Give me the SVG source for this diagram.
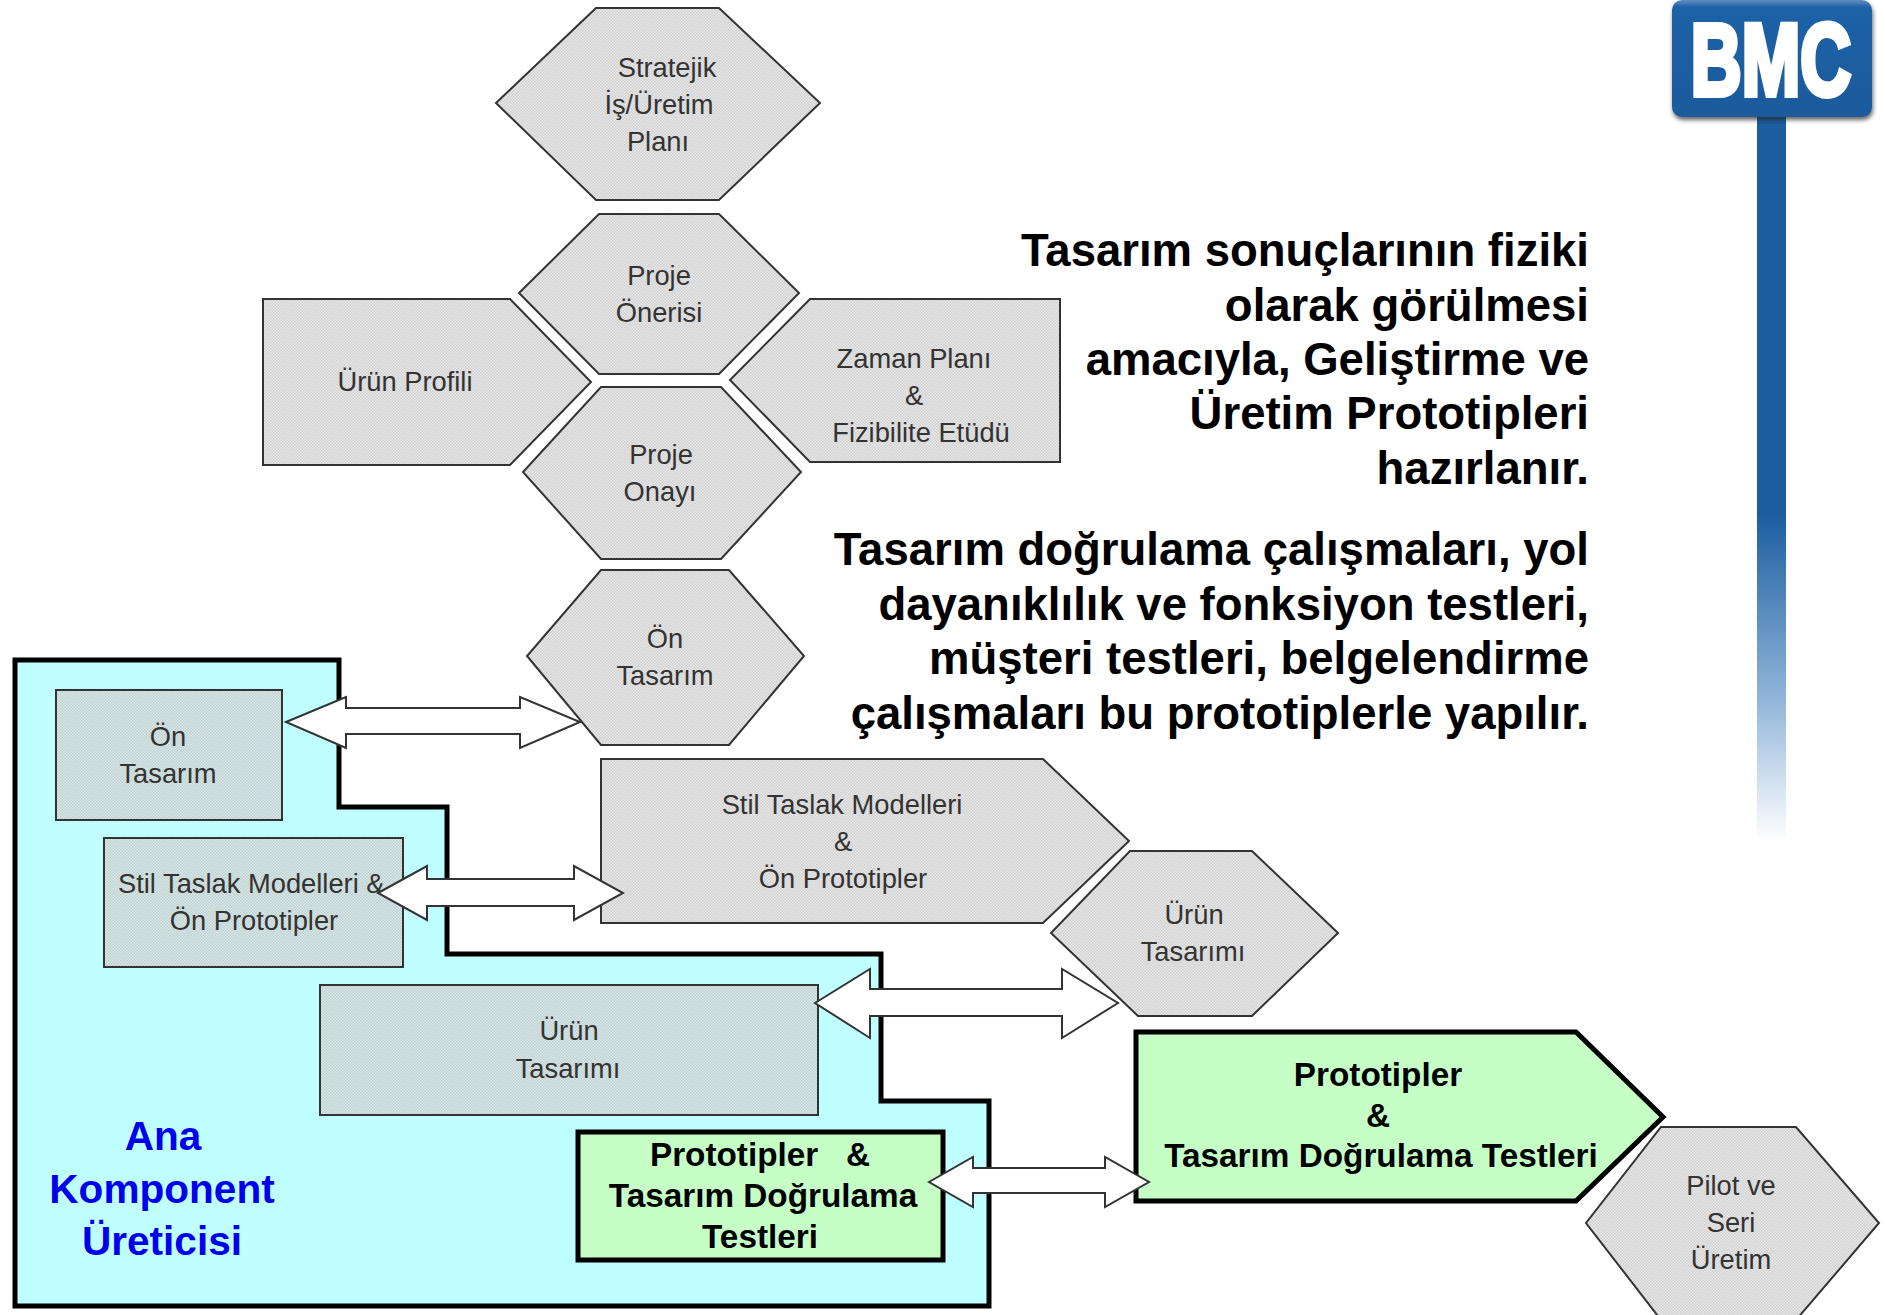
<svg xmlns="http://www.w3.org/2000/svg" width="1885" height="1315" viewBox="0 0 1885 1315">
<style>
.g{fill:url(#dg);stroke:#333;stroke-width:2}
.t{fill:url(#dt);stroke:#333;stroke-width:2}
.p{fill:#c6ffc6;stroke:#000;stroke-width:5}
.a{fill:#fff;stroke:#333;stroke-width:2}
text{font-family:"Liberation Sans",Arial,sans-serif}
.l{font-size:27.3px;fill:#333;text-anchor:middle}
.b{font-size:33.3px;font-weight:bold;fill:#000;text-anchor:middle}
.r{font-size:45.5px;font-weight:bold;fill:#000;text-anchor:end}
.u{font-size:40.6px;font-weight:bold;fill:#0000ee;text-anchor:middle}
.logo-t{font-size:102px;font-weight:bold;fill:#fff;stroke:#fff;stroke-width:6;text-anchor:middle}
</style>
<defs>
<pattern id="dg" width="3" height="3" patternUnits="userSpaceOnUse"><rect width="3" height="3" fill="#e8e8e8"/><rect width="1.5" height="1.5" fill="#d0d0d0"/><rect x="1.5" y="1.5" width="1.5" height="1.5" fill="#d0d0d0"/></pattern>
<pattern id="dt" width="3" height="3" patternUnits="userSpaceOnUse"><rect width="3" height="3" fill="#d8e8e8"/><rect width="1.5" height="1.5" fill="#c0d0d0"/><rect x="1.5" y="1.5" width="1.5" height="1.5" fill="#c0d0d0"/></pattern>
<linearGradient id="pole" x1="0" y1="0" x2="0" y2="1"><stop offset="0" stop-color="#1c5da0"/><stop offset="0.55" stop-color="#1c5da0"/><stop offset="0.8" stop-color="#8fb4d8"/><stop offset="1" stop-color="#fff"/></linearGradient>
<linearGradient id="sign" x1="0" y1="0" x2="0" y2="1"><stop offset="0" stop-color="#5f8fbf"/><stop offset="0.06" stop-color="#1f62a6"/><stop offset="1" stop-color="#1c5a9c"/></linearGradient>
<filter id="sh" x="-5%" y="-5%" width="110%" height="115%"><feDropShadow dx="1" dy="3" stdDeviation="2" flood-color="#222" flood-opacity="0.7"/></filter>
</defs>
<g id="logo">
<rect x="1757" y="112" width="29" height="730" fill="url(#pole)"/>
<rect x="1672" y="0" width="200" height="117" rx="10" fill="url(#sign)" filter="url(#sh)"/>
<text class="logo-t" transform="translate(1771 95) scale(0.69 1)">BMC</text>
</g>
<g id="n-stratejik"><polygon class="g" points="596,8 719,8 820,103 719,200 596,200 496,103"/><text class="l" x="667" y="77">Stratejik</text><text class="l" x="659" y="114">İş/Üretim</text><text class="l" x="658" y="151">Planı</text></g>
<g id="n-oneri"><polygon class="g" points="599,214 719,214 799,293 719,374 599,374 519,293"/><text class="l" x="659" y="285">Proje</text><text class="l" x="659" y="322">Önerisi</text></g>
<g id="n-profil"><polygon class="g" points="263,299 510,299 591,382 510,465 263,465"/><text class="l" x="405" y="391">Ürün Profili</text></g>
<g id="n-zaman"><polygon class="g" points="1060,299 810,299 730,380 810,462 1060,462"/><text class="l" x="914" y="368">Zaman Planı</text><text class="l" x="914" y="405">&amp;</text><text class="l" x="921" y="442">Fizibilite Etüdü</text></g>
<g id="n-onay"><polygon class="g" points="601,387 721,387 801,472 721,559 601,559 523,472"/><text class="l" x="661" y="464">Proje</text><text class="l" x="660" y="501">Onayı</text></g>
<g id="n-ontasarim"><polygon class="g" points="601,570 729,570 804,656 729,745 601,745 527,656"/><text class="l" x="665" y="648">Ön</text><text class="l" x="665" y="685">Tasarım</text></g>
<g id="n-ana"><polygon points="15,660 339,660 339,807 447,807 447,954 881,954 881,1101 989,1101 989,1306 15,1306" fill="#c0ffff" stroke="#000" stroke-width="5"/><text class="u" x="163" y="1150">Ana</text><text class="u" x="162" y="1203">Komponent</text><text class="u" x="162" y="1255">Üreticisi</text></g>
<g id="n-a-on"><rect class="t" x="56" y="690" width="226" height="130"/><text class="l" x="168" y="746">Ön</text><text class="l" x="168" y="783">Tasarım</text></g>
<g id="n-a-stil"><rect class="t" x="104" y="838" width="299" height="129"/><text class="l" x="118" y="893" style="text-anchor:start">Stil Taslak Modelleri &amp;</text><text class="l" x="254" y="930">Ön Prototipler</text></g>
<g id="n-a-urun"><rect class="t" x="320" y="985" width="498" height="130"/><text class="l" x="569" y="1040">Ürün</text><text class="l" x="568" y="1078">Tasarımı</text></g>
<g id="n-a-proto"><rect class="p" x="578" y="1132" width="365" height="128"/><text class="b" x="760" y="1166" xml:space="preserve">Prototipler   &amp;</text><text class="b" x="763" y="1207">Tasarım Doğrulama</text><text class="b" x="760" y="1248">Testleri</text></g>
<g id="n-stil"><polygon class="g" points="601,759 1043,759 1129,841 1043,923 601,923"/><text class="l" x="842" y="814">Stil Taslak Modelleri</text><text class="l" x="843" y="851">&amp;</text><text class="l" x="843" y="888">Ön Prototipler</text></g>
<g id="n-urun"><polygon class="g" points="1130,851 1252,851 1338,933 1252,1016 1138,1016 1051,933"/><text class="l" x="1194" y="924">Ürün</text><text class="l" x="1193" y="961">Tasarımı</text></g>
<g id="n-pilot"><polygon class="g" points="1661,1127 1796,1127 1879,1223 1796,1320 1661,1320 1586,1223"/><text class="l" x="1731" y="1195">Pilot ve</text><text class="l" x="1731" y="1232">Seri</text><text class="l" x="1731" y="1269">Üretim</text></g>
<g id="n-proto"><polygon class="p" points="1136,1032 1576,1032 1663,1117 1576,1201 1136,1201"/><text class="b" x="1378" y="1086">Prototipler</text><text class="b" x="1378" y="1127">&amp;</text><text class="b" x="1381" y="1167">Tasarım Doğrulama Testleri</text></g>
<g id="connectors">
<polygon class="a" points="286,722 346,697 346,708 520,708 520,697 580,722 520,748 520,734 346,734 346,748"/>
<polygon class="a" points="378,893 427,866 427,879 574,879 574,866 623,893 574,920 574,906 427,906 427,920"/>
<polygon class="a" points="815,1003 870,969 870,989 1062,989 1062,969 1118,1003 1062,1038 1062,1016 870,1016 870,1038"/>
<polygon class="a" points="929,1182 973,1157 973,1168 1105,1168 1105,1157 1149,1182 1105,1207 1105,1193 973,1193 973,1207"/>
</g>
<g id="caption">
<text class="r" x="1589" y="266">Tasarım sonuçlarının fiziki</text>
<text class="r" x="1589" y="321">olarak görülmesi</text>
<text class="r" x="1589" y="375">amacıyla, Geliştirme ve</text>
<text class="r" x="1589" y="429">Üretim Prototipleri</text>
<text class="r" x="1589" y="484">hazırlanır.</text>
<text class="r" x="1589" y="565">Tasarım doğrulama çalışmaları, yol</text>
<text class="r" x="1589" y="620">dayanıklılık ve fonksiyon testleri,</text>
<text class="r" x="1589" y="674">müşteri testleri, belgelendirme</text>
<text class="r" x="1589" y="729">çalışmaları bu prototiplerle yapılır.</text>
</g>
</svg>
